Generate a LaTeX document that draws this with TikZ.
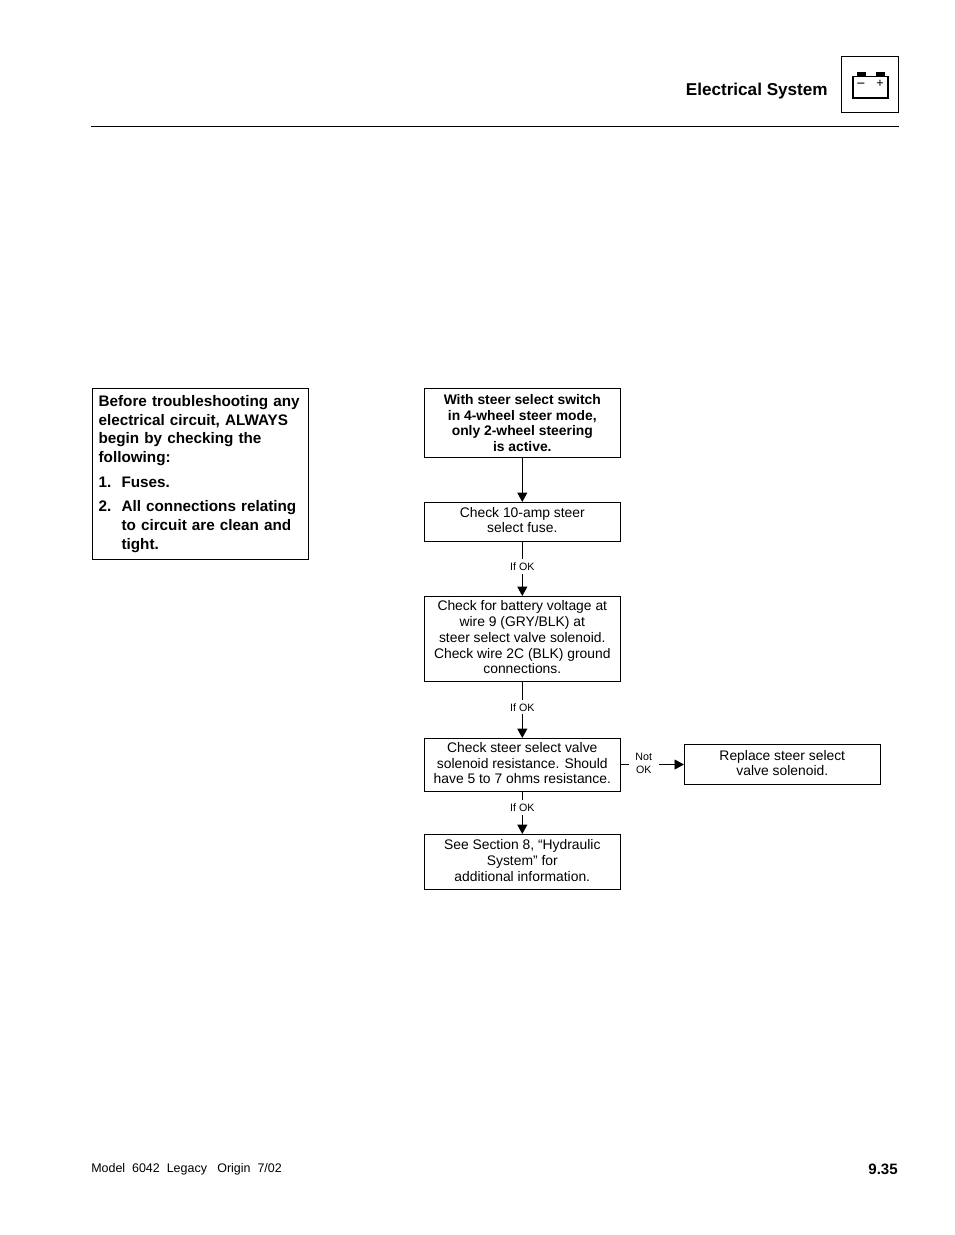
\documentclass[tikz,border=0pt]{standalone}
\usepackage{fontspec}
\setmainfont{Liberation Sans}
\usetikzlibrary{arrows.meta,positioning}
\newcommand{\itemgap}{\hspace*{17.2pt}}
\newcommand{\numlabel}[1]{\makebox[17.2pt][l]{#1}}
\newcommand{\lift}[1]{\rule[-#1pt]{0pt}{0pt}}
\tikzset{
  stepbox/.style={draw,line width=0.6pt,minimum width=147pt,inner sep=0pt,align=center,
    font=\fontsize{10.4}{11.8}\selectfont},
  okarrow/.style={-{Triangle[length=7pt,width=7.5pt]},line width=0.6pt},
  oklabel/.style={fill=white,inner xsep=1.5pt,inner ysep=2.5pt,align=center,font=\fontsize{8}{9.8}\selectfont},
}
\begin{document}
\begin{tikzpicture}[x=0.75pt,y=-0.75pt]
  \useasboundingbox (0,0) rectangle (954,1235);
  % --- Header ---
  \node[anchor=east,inner sep=0pt,font=\fontsize{12.85}{14}\selectfont\bfseries] (title) at (828,91.5) {Electrical System};
  \node[draw,line width=0.6pt,minimum width=43pt,minimum height=42.2pt,inner sep=0pt] (icon) at (869.8,84.3) {};
  \draw[line width=0.6pt] (91,126.5)--(899,126.5);
  % battery glyph
  \fill (857,72) rectangle (866,76);
  \fill (876,72) rectangle (885,76);
  \draw[line width=0.8pt] (853,76.5) rectangle (888,98);
  \node[inner sep=0pt,font=\fontsize{11}{12}\selectfont] (minus) at (861,85.5) {−};
  \node[inner sep=0pt,font=\fontsize{9.5}{11}\selectfont] (plus) at (880,84) {+};

  % --- Left: reminder box ---
  \node[draw,line width=0.6pt,anchor=north west,minimum width=162pt,minimum height=128.4pt,inner sep=0pt,
    text width=153pt,align=left,font=\fontsize{11.45}{14.05}\selectfont\bfseries] (note) at (92.2,387.8)
    {Before troubleshooting any\\electrical circuit, ALWAYS\\begin by checking the\\following:\\[4.4pt]
     \numlabel{1.}Fuses.\\[4.4pt]
     \numlabel{2.}All connections relating\\\itemgap to circuit are clean and\\\itemgap tight.};

  % --- Flow chart ---
  \node[stepbox,minimum height=52pt,font=\fontsize{10.4}{11.8}\selectfont\bfseries] (start) at (522.3,423)
    {With steer select switch\\in 4-wheel steer mode,\\only 2-wheel steering\\is active.};
  \node[stepbox,minimum height=29.5pt] (fuse) at (522.3,522)
    {Check 10-amp steer\\\lift{3}select fuse.};
  \node[stepbox,minimum height=64pt] (battery) at (522.3,639)
    {Check for battery voltage at\\wire 9 (GRY/BLK) at\\steer select valve solenoid.\\Check wire 2C (BLK) ground\\\lift{2.5}connections.};
  \node[stepbox,minimum height=40pt] (resist) at (522.3,765)
    {Check steer select valve\\solenoid resistance. Should\\\lift{3}have 5 to 7 ohms resistance.};
  \node[stepbox,minimum height=41.5pt] (hydraulic) at (522.3,862)
    {See Section 8, “Hydraulic\\System” for\\\lift{2}additional information.};
  \node[stepbox,minimum height=30pt] (replace) at (782.3,764.5)
    {Replace steer select\\\lift{2.5}valve solenoid.};

  \draw[okarrow] (start)--(fuse);
  \draw[okarrow] (fuse)--(battery) node[oklabel,pos=0.45] (ok1) {If OK};
  \draw[okarrow] (battery)--(resist) node[oklabel,pos=0.45] (ok2) {If OK};
  \draw[okarrow] (resist)--(hydraulic) node[oklabel,pos=0.37] (ok3) {If OK};
  \draw[okarrow] (resist.east|-replace)--(replace) node[oklabel,inner xsep=5pt,pos=0.365,yshift=0.6pt] (notok) {Not\\OK};

  % --- Footer ---
  \node[anchor=west,inner sep=0pt,font=\fontsize{9.35}{11}\selectfont] (model) at (91,1169.5) {Model\ \ 6042\ \ Legacy\ \ \ Origin\ \ 7/02};
  \node[anchor=east,inner sep=0pt,font=\fontsize{11.3}{13}\selectfont\bfseries] (page) at (898,1169) {9.35};
\end{tikzpicture}
\end{document}
